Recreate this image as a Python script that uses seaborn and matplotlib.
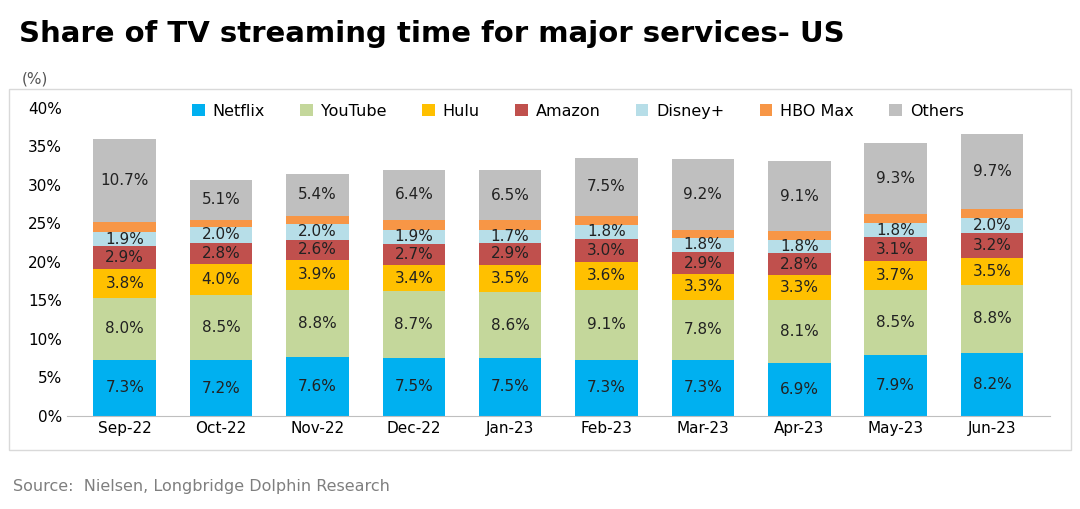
import matplotlib
matplotlib.use("Agg")
import matplotlib.pyplot as plt
import seaborn as sns
import pandas as pd
import numpy as np

months = ["Sep-22","Oct-22","Nov-22","Dec-22","Jan-23","Feb-23","Mar-23","Apr-23","May-23","Jun-23"]
netflix = [7.3,7.2,7.6,7.5,7.5,7.3,7.3,6.9,7.9,8.2]
youtube = [8.0,8.5,8.8,8.7,8.6,9.1,7.8,8.1,8.5,8.8]
hulu = [3.8,4.0,3.9,3.4,3.5,3.6,3.3,3.3,3.7,3.5]
amazon = [2.9,2.8,2.6,2.7,2.9,3.0,2.9,2.8,3.1,3.2]
disney = [1.9,2.0,2.0,1.9,1.7,1.8,1.8,1.8,1.8,2.0]
hbo = [1.3,1.0,1.1,1.3,1.2,1.2,1.1,1.1,1.2,1.2]
others = [10.7,5.1,5.4,6.4,6.5,7.5,9.2,9.1,9.3,9.7]

series = [("Netflix",netflix,"#00B0F0"),("YouTube",youtube,"#C4D79B"),("Hulu",hulu,"#FFC000"),
          ("Amazon",amazon,"#C0504D"),("Disney+",disney,"#B7DEE8"),("HBO Max",hbo,"#F79646"),
          ("Others",others,"#BFBFBF")]
labeled = {"Netflix","YouTube","Hulu","Amazon","Disney+","Others"}

fig = plt.figure(figsize=(10.8,5.09), dpi=100)
ax = fig.add_axes([0.062,0.183,0.91,0.605])
cum = np.zeros(len(months))
bottoms = []
for name, vals, c in series:
    bottoms.append(cum.copy())
    cum = cum + np.array(vals)
tops = [b + np.array(v) for b,(n,v,c) in zip(bottoms, series)]
for (name, vals, c), top in reversed(list(zip(series, tops))):
    df = pd.DataFrame({"m": months, "v": top})
    sns.barplot(data=df, x="m", y="v", color=c, width=0.65, ax=ax, saturation=1, label=name, edgecolor="none")
for (name, vals, c), b in zip(series, bottoms):
    if name not in labeled: continue
    for i, v in enumerate(vals):
        ax.text(i, b[i]+v/2, f"{v:.1f}%", ha="center", va="center", fontsize=11, color="#222222")
ax.set_ylim(0,40)
ax.set_yticks(range(0,41,5))
ax.set_yticklabels([f"{t}%" for t in range(0,41,5)], fontsize=11)
ax.tick_params(axis="x", labelsize=11, length=0)
ax.tick_params(axis="y", length=0)
ax.set_xlabel(""); ax.set_ylabel("")
for s in ["top","right","left"]: ax.spines[s].set_visible(False)
ax.spines["bottom"].set_color("#BFBFBF")
ax.set_xlim(-0.6, 9.6)
h, l = ax.get_legend_handles_labels()
order = [l.index(n) for n,_,_ in series]
ax.legend([h[i] for i in order],[l[i] for i in order], ncol=7, loc="upper center", bbox_to_anchor=(0.52,1.06),
          frameon=False, fontsize=11.5, handlelength=0.8, handleheight=0.8, columnspacing=2.2, handletextpad=0.5)
fig.text(0.018,0.905,"Share of TV streaming time for major services- US", fontsize=21, fontweight="bold", ha="left", va="bottom")
fig.text(0.02,0.835,"(%)", fontsize=11, color="#555555")
fig.add_artist(plt.Rectangle((0.008,0.115),0.984,0.71, transform=fig.transFigure, fill=False, edgecolor="#D9D9D9", lw=1))
fig.text(0.012,0.035,"Source:  Nielsen, Longbridge Dolphin Research", fontsize=11.5, color="#7F7F7F")
fig.savefig("out.png", dpi=100)
